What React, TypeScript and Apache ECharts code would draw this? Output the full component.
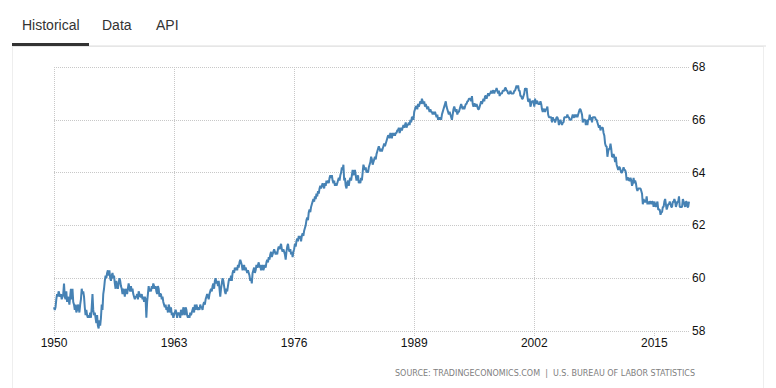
import React, { useEffect, useRef } from "react";
import * as echarts from "echarts";

const startYear = 1950;

const values1950s = [
  58.9, 58.8, 58.9, 59.2, 59.4, 59.3, 59.5, 59.4, 59.3, 59.4, 59.2, 59.3,
  59.4, 59.8, 59.3, 59.2, 59.5, 59.1, 59.3, 59.2, 59.0, 59.3, 59.6, 59.2,
  59.6, 59.1, 59.0, 58.8, 59.0, 58.7, 58.8, 59.0, 58.9, 58.7, 59.0, 59.2,
  59.6, 59.4, 59.5, 59.3, 58.9, 58.6, 58.8, 58.6, 58.5, 58.6, 58.5, 58.7,
  58.5, 58.9, 59.4, 58.8, 58.6, 58.7, 58.5, 58.3, 58.6, 58.2, 58.1, 58.4,
  58.2, 58.5, 59.0, 58.8, 59.4, 59.6, 59.9, 60.1, 60.0, 60.2, 60.3, 60.1,
  60.3, 60.0, 59.9, 60.1, 60.2, 60.0, 60.1, 59.8, 59.6, 59.9, 59.7, 59.6,
  59.8, 60.0, 59.9, 59.7, 59.6, 59.4, 59.6, 59.5, 59.3, 59.6, 59.5, 59.4,
  59.6, 59.8, 59.6, 59.5, 59.7, 59.5, 59.6, 59.4, 59.3, 59.2, 59.3, 59.3,
  59.4, 59.2, 59.5, 59.4, 59.3, 59.3, 59.4, 59.2, 59.3, 59.1, 59.3, 59.2,
];

const values1960s = [
  58.5, 59.1, 59.4, 59.7, 59.5, 59.6, 59.5, 59.7, 59.6, 59.8, 59.7, 59.6,
  59.7, 59.5, 59.4, 59.7, 59.6, 59.3, 59.4, 59.4, 59.2, 59.3, 59.1, 59.0,
  58.9, 59.0, 58.8, 58.9, 58.7, 59.0, 58.9, 58.7, 58.9, 58.6, 58.7, 58.5,
  58.6, 58.7, 58.8, 58.7, 58.5, 58.7, 58.6, 58.7, 58.5, 58.8, 58.7, 58.6,
  58.9, 58.8, 58.6, 58.9, 58.8, 58.6, 58.5, 58.6, 58.5, 58.7, 58.6, 58.7,
  58.8, 58.9, 58.7, 59.0, 58.8, 59.0, 58.9, 58.8, 58.9, 58.8, 59.0, 58.9,
  58.9, 58.8, 59.0, 59.1, 59.0, 59.2, 59.3, 59.4, 59.3, 59.2, 59.4, 59.5,
  59.6, 59.5, 59.7, 59.8, 59.6, 59.9, 60.0, 59.8, 59.9, 59.7, 59.9, 59.6,
  59.3, 59.6, 59.8, 60.0, 59.9, 59.7, 59.5, 59.4, 59.6, 59.5, 59.7, 59.9,
  60.0, 59.9, 60.1, 59.9, 60.2, 60.3, 60.2, 60.4, 60.3, 60.4, 60.3, 60.5,
];

const values1970s = [
  60.4, 60.6, 60.7, 60.6, 60.5, 60.3, 60.4, 60.5, 60.3, 60.4, 60.3, 60.2,
  60.3, 60.2, 60.1, 59.9, 60.0, 59.8, 60.2, 60.3, 60.4, 60.2, 60.3, 60.5,
  60.4, 60.5, 60.6, 60.4, 60.5, 60.3, 60.4, 60.5, 60.3, 60.4, 60.5, 60.4,
  60.6, 60.7, 60.6, 60.8, 60.7, 60.9, 61.0, 60.8, 60.9, 61.0, 61.1, 61.0,
  60.9, 61.0, 60.9, 61.1, 61.2, 61.1, 61.2, 61.3, 61.1, 61.0, 61.1, 61.0,
  60.9, 60.7, 61.0, 61.2, 61.3, 61.1, 61.0, 61.1, 60.9, 61.0, 60.8, 61.0,
  61.1, 61.3, 61.2, 61.4, 61.5, 61.4, 61.6, 61.5, 61.6, 61.4, 61.6, 61.7,
  61.6, 61.8, 61.9, 62.0, 62.2, 62.3, 62.2, 62.5, 62.6, 62.5, 62.7, 62.8,
  62.9, 63.0, 62.9, 63.1, 63.0, 63.2, 63.1, 63.3, 63.2, 63.4, 63.5, 63.4,
  63.5, 63.6, 63.5, 63.4, 63.6, 63.5, 63.7, 63.6, 63.7, 63.6, 63.8, 63.9,
];

const values1980s = [
  63.8, 63.9, 63.7, 63.6, 63.7, 63.5, 63.6, 63.5, 63.6, 63.7, 63.8, 63.7,
  63.9, 64.0, 64.2, 64.1, 64.3, 63.7, 63.8, 63.5, 63.4, 63.6, 63.7, 63.5,
  63.7, 63.8, 63.7, 63.9, 64.1, 63.9, 64.0, 64.1, 63.9, 63.7, 63.8, 63.9,
  63.6, 63.7, 63.6, 63.8, 63.7, 64.0, 64.3, 64.2, 64.1, 64.2, 64.0, 64.1,
  64.0, 64.2, 64.3, 64.4, 64.6, 64.5, 64.3, 64.4, 64.5, 64.6, 64.5, 64.7,
  64.8, 64.9, 65.0, 64.9, 64.8, 64.9, 64.8, 64.9, 65.0, 65.1, 65.0, 65.1,
  65.2, 65.3, 65.4, 65.4, 65.3, 65.5, 65.4, 65.3, 65.5, 65.4, 65.5, 65.4,
  65.5, 65.5, 65.6, 65.6, 65.7, 65.5, 65.6, 65.7, 65.6, 65.7, 65.8, 65.7,
  65.8, 65.9, 65.7, 65.8, 65.8, 65.9, 65.8, 66.0, 65.9, 66.1, 66.1, 66.0,
  66.3, 66.4, 66.5, 66.5, 66.4, 66.6, 66.5, 66.6, 66.7, 66.6, 66.8, 66.7,
];

const values1990s = [
  66.6, 66.7, 66.5, 66.6, 66.5, 66.4, 66.5, 66.4, 66.3, 66.4, 66.3, 66.3,
  66.2, 66.3, 66.2, 66.3, 66.2, 66.1, 66.2, 66.0, 66.1, 66.0, 66.1, 66.0,
  66.2, 66.3, 66.4, 66.5, 66.6, 66.7, 66.5, 66.4, 66.3, 66.2, 66.3, 66.2,
  66.1, 66.0, 66.2, 66.4, 66.5, 66.4, 66.3, 66.4, 66.2, 66.3, 66.3, 66.4,
  66.5, 66.6, 66.5, 66.4, 66.5, 66.4, 66.5, 66.6, 66.6, 66.7, 66.7, 66.8,
  66.8, 66.8, 66.7, 66.9, 66.6, 66.5, 66.6, 66.6, 66.5, 66.6, 66.5, 66.4,
  66.4, 66.5, 66.6, 66.7, 66.6, 66.7, 66.8, 66.7, 66.9, 66.9, 66.8, 66.9,
  67.0, 66.9, 67.0, 67.0, 67.1, 67.0, 67.1, 67.1, 67.0, 67.1, 67.1, 67.2,
  67.1, 67.0, 67.1, 66.9, 67.0, 67.0, 67.0, 67.1, 67.1, 67.1, 67.2, 67.2,
  67.1, 67.1, 67.0, 67.0, 67.0, 67.1, 67.0, 67.0, 67.0, 67.0, 67.1, 67.1,
];

const values2000s = [
  67.2, 67.3, 67.2, 67.3, 67.1, 67.1, 66.9, 66.9, 66.8, 66.8, 66.9, 67.0,
  67.2, 67.1, 67.2, 66.9, 66.7, 66.7, 66.8, 66.5, 66.6, 66.7, 66.7, 66.7,
  66.5, 66.8, 66.6, 66.7, 66.7, 66.6, 66.6, 66.6, 66.7, 66.6, 66.4, 66.3,
  66.4, 66.4, 66.3, 66.4, 66.4, 66.5, 66.2, 66.1, 66.1, 66.1, 66.1, 65.9,
  66.1, 66.0, 66.0, 65.9, 66.0, 66.1, 66.1, 66.0, 65.8, 65.9, 66.0, 65.9,
  65.8, 65.9, 65.9, 66.1, 66.1, 66.1, 66.1, 66.2, 66.1, 66.1, 66.0, 66.0,
  66.0, 66.1, 66.2, 66.1, 66.1, 66.2, 66.1, 66.2, 66.1, 66.2, 66.3, 66.4,
  66.4, 66.3, 66.2, 65.9, 66.0, 66.0, 66.0, 65.8, 66.0, 65.8, 66.0, 66.0,
  66.2, 66.0, 66.1, 65.9, 66.1, 66.1, 66.1, 66.1, 66.0, 66.0, 65.9, 65.8,
  65.7, 65.8, 65.6, 65.7, 65.7, 65.7, 65.5, 65.4, 65.1, 65.0, 65.0, 64.6,
];

const values2010s = [
  64.8, 64.9, 64.9, 65.1, 64.9, 64.6, 64.6, 64.7, 64.6, 64.4, 64.6, 64.3,
  64.2, 64.1, 64.2, 64.2, 64.1, 64.0, 64.0, 64.1, 64.2, 64.1, 64.1, 64.0,
  63.7, 63.8, 63.8, 63.7, 63.7, 63.8, 63.7, 63.5, 63.6, 63.8, 63.6, 63.7,
  63.6, 63.4, 63.3, 63.4, 63.4, 63.4, 63.4, 63.3, 63.2, 62.8, 63.0, 62.9,
  62.9, 62.9, 63.1, 62.8, 62.9, 62.8, 62.9, 62.9, 62.8, 62.9, 62.9, 62.7,
  62.9, 62.8, 62.7, 62.8, 62.9, 62.6, 62.6, 62.6, 62.4, 62.5, 62.5, 62.7,
  62.7, 62.9, 63.0, 62.8, 62.6, 62.7, 62.8, 62.8, 62.9, 62.8, 62.7, 62.7,
  62.9, 62.9, 63.0, 62.9, 62.7, 62.8, 62.9, 62.9, 63.1, 62.7, 62.7, 62.7,
  62.7, 63.0, 62.9, 62.8, 62.7, 62.9, 62.9, 62.7, 62.7, 62.9,
];

const xTickYears = [1950, 1963, 1976, 1989, 2002, 2015];
const yMin = 58;
const yMax = 68;
const yStep = 2;
const tabs = ["Historical", "Data", "API"];
const sourceText = "SOURCE: TRADINGECONOMICS.COM  |  U.S. BUREAU OF LABOR STATISTICS";

export default function App() {
  const ref = useRef<HTMLDivElement>(null);

  useEffect(() => {
    if (!ref.current) return;
    const chart = echarts.init(ref.current, null, { renderer: "svg" });
    const values = [
      ...values1950s,
      ...values1960s,
      ...values1970s,
      ...values1980s,
      ...values1990s,
      ...values2000s,
      ...values2010s,
    ];
    const data = values.map((v, i) => [startYear + i / 12, v]);
    const xMax = startYear + (values.length - 1) / 12;
    const font = '"Liberation Sans", Arial, sans-serif';
    const gridColor = "#c8c8c8";

    const tabX = [22, 102, 156];

    chart.setOption({
      animation: false,
      backgroundColor: "#ffffff",
      grid: { left: 54, right: 87, top: 67, bottom: 57 },
      xAxis: {
        type: "value",
        min: startYear,
        max: xMax,
        interval: 13,
        axisLine: { show: false },
        axisTick: {
          show: true,
          length: 6,
          customValues: xTickYears,
          lineStyle: { color: gridColor, type: "dotted" },
        },
        splitLine: {
          show: true,
          showMaxLine: false,
          lineStyle: { color: gridColor, type: "dotted", width: 1 },
        },
        axisLabel: {
          customValues: xTickYears,
          formatter: (v: number) => String(Math.round(v)),
          color: "#111",
          fontSize: 12,
          fontFamily: font,
          margin: 6,
        },
      },
      yAxis: {
        type: "value",
        position: "right",
        min: yMin,
        max: yMax,
        interval: yStep,
        axisLine: { show: false },
        axisTick: { show: false },
        splitLine: {
          show: true,
          lineStyle: { color: gridColor, type: "dotted", width: 1 },
        },
        axisLabel: {
          color: "#111",
          fontSize: 12,
          fontFamily: font,
          margin: 3,
        },
      },
      series: [
        {
          type: "line",
          data,
          showSymbol: false,
          symbol: "none",
          lineStyle: { color: "#4682b4", width: 2 },
        },
      ],
      graphic: [
        {
          type: "rect",
          shape: { x: 12.5, y: 46.5, width: 751, height: 360 },
          style: { fill: "none", stroke: "#eeeeee", lineWidth: 1 },
          silent: true,
        },
        {
          type: "line",
          shape: { x1: 12, y1: 46, x2: 766, y2: 46 },
          style: { stroke: "#dddddd", lineWidth: 1 },
          silent: true,
        },
        {
          type: "rect",
          shape: { x: 12, y: 43, width: 77, height: 3 },
          style: { fill: "#333333" },
          silent: true,
        },
        ...tabs.map((t, i) => ({
          type: "text",
          x: tabX[i],
          y: 25,
          style: {
            text: t,
            fill: "#333333",
            font: `14px ${font}`,
            textVerticalAlign: "middle",
            verticalAlign: "middle",
          },
          silent: true,
        })),
        {
          type: "text",
          x: 395,
          y: 373,
          style: {
            text: sourceText,
            fill: "#808080",
            font: `8px "DejaVu Sans", Verdana, sans-serif`,
            textVerticalAlign: "middle",
            verticalAlign: "middle",
          },
          silent: true,
        },
      ],
    });

    return () => chart.dispose();
  }, []);

  return (
    <div
      ref={ref}
      style={{ position: "fixed", left: 0, top: 0, width: 776, height: 388 }}
    />
  );
}
